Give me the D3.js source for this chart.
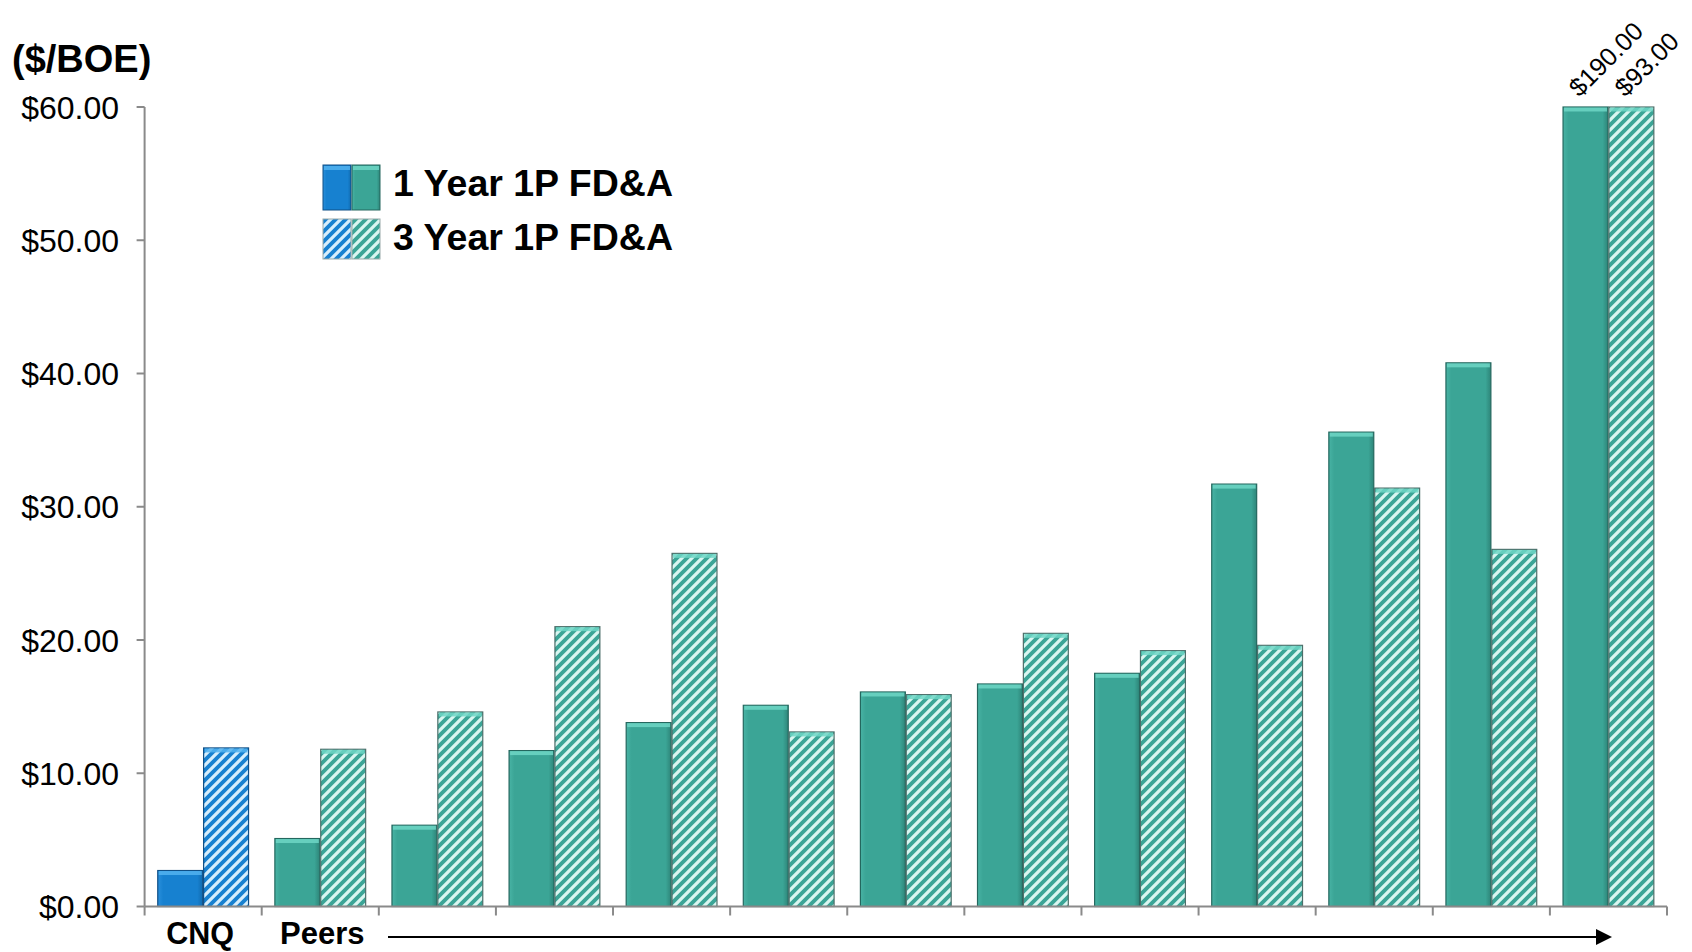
<!DOCTYPE html>
<html>
<head>
<meta charset="utf-8">
<script src="https://cdn.jsdelivr.net/npm/d3@7"></script>
<style>
  html, body { margin: 0; padding: 0; background: #ffffff; }
  svg { display: block; }
  text { font-family: "Liberation Sans", Arial, sans-serif; }
</style>
</head>
<body>
<svg id="chart" width="1692" height="952"></svg>
<script>
// ---- data ----
const categories = ["CNQ", "Peer 1", "Peer 2", "Peer 3", "Peer 4", "Peer 5", "Peer 6",
                    "Peer 7", "Peer 8", "Peer 9", "Peer 10", "Peer 11", "Peer 12"];
const oneYear   = [2.7, 5.1, 6.1, 11.7, 13.8, 15.1, 16.1, 16.7, 17.5, 31.7, 35.6, 40.8, 190.0];
const threeYear = [11.9, 11.8, 14.6, 21.0, 26.5, 13.1, 15.9, 20.5, 19.2, 19.6, 31.4, 26.8, 93.0];
const seriesNames = ["1 Year 1P FD&A", "3 Year 1P FD&A"];
const yTicks = [0, 10, 20, 30, 40, 50, 60];
const yMax = 60;

(function () {
// ---- layout ----
const svg = d3.select("#chart");
const pLeft = 144.6, pRight = 1667, pTop = 107, pBottom = 906.5;

const x = d3.scaleBand().domain(categories).range([pLeft, pRight]).paddingInner(0).paddingOuter(0);
const xs = d3.scaleBand().domain(["y1", "y3"]).range([0, x.bandwidth()]).paddingInner(0.02).paddingOuter(0.287);
const y = d3.scaleLinear().domain([0, yMax]).range([pBottom, pTop]);

const teal = "#3ba596", tealLight = "#6fd6c6", tealDark = "#24675e";
const blue = "#1781d0", blueLight = "#52b3f0", blueDark = "#0f4f86";

// ---- defs: patterns & gradients ----
const defs = svg.append("defs");
function hatch(id, base, stripe) {
  const p = defs.append("pattern").attr("id", id).attr("patternUnits", "userSpaceOnUse")
    .attr("width", 10).attr("height", 10);
  p.append("rect").attr("width", 10).attr("height", 10).attr("fill", base);
  p.append("path").attr("d", "M-2.5,2.5 l5,-5 M0,10 l10,-10 M7.5,12.5 l5,-5")
    .attr("stroke", stripe).attr("stroke-width", 3.2);
}
hatch("hatchTeal", teal, "#d9f6f1");
hatch("hatchBlue", blue, "#d6eefc");
function grad(id, c1, c2, c3) {
  const g = defs.append("linearGradient").attr("id", id).attr("x1", 0).attr("x2", 1).attr("y1", 0).attr("y2", 0);
  g.append("stop").attr("offset", "0%").attr("stop-color", c1);
  g.append("stop").attr("offset", "12%").attr("stop-color", c2);
  g.append("stop").attr("offset", "88%").attr("stop-color", c2);
  g.append("stop").attr("offset", "100%").attr("stop-color", c3);
}
grad("gradTeal", "#48b3a4", teal, "#2e8579");
grad("gradBlue", "#2a90dc", blue, "#106bb0");

// ---- title ----
svg.append("text").attr("x", 12).attr("y", 72).attr("font-size", 38).attr("font-weight", "bold")
  .text("($/BOE)");

// ---- y axis ----
const yAxis = svg.append("g");
yAxis.append("line").attr("x1", pLeft).attr("x2", pLeft).attr("y1", pTop).attr("y2", pBottom)
  .attr("stroke", "#8a8a8a").attr("stroke-width", 2);
yAxis.selectAll(".yt").data(yTicks).join("line")
  .attr("x1", pLeft - 8).attr("x2", pLeft).attr("y1", d => y(d)).attr("y2", d => y(d))
  .attr("stroke", "#8a8a8a").attr("stroke-width", 2);
yAxis.selectAll(".yl").data(yTicks).join("text")
  .attr("x", 119).attr("y", d => y(d) + 11.5).attr("text-anchor", "end")
  .attr("font-size", 32).attr("fill", "#000")
  .text(d => "$" + d3.format(".2f")(d));

// ---- bars ----
function drawBar(g, cx, w, v, fillId, light, dark) {
  const vv = Math.min(v, yMax);
  const yTop = y(vv), h = pBottom - yTop;
  g.append("rect").attr("x", cx).attr("y", yTop).attr("width", w).attr("height", h)
    .attr("fill", "url(#" + fillId + ")").attr("stroke", dark).attr("stroke-width", 1.2);
  g.append("rect").attr("x", cx + 1).attr("y", yTop + 0.5).attr("width", w - 2).attr("height", 4)
    .attr("fill", light).attr("opacity", 0.85);
}
const bars = svg.append("g");
categories.forEach((c, i) => {
  const isCNQ = i === 0;
  const g = bars.append("g");
  const x1 = x(c) + xs("y1"), x3 = x(c) + xs("y3"), w = xs.bandwidth();
  drawBar(g, x1, w, oneYear[i], isCNQ ? "gradBlue" : "gradTeal",
          isCNQ ? blueLight : tealLight, isCNQ ? blueDark : tealDark);
  drawBar(g, x3, w, threeYear[i], isCNQ ? "hatchBlue" : "hatchTeal",
          isCNQ ? blueLight : tealLight, isCNQ ? blueDark : "#4d6f6a");
  // overflow labels
  [[oneYear[i], x1], [threeYear[i], x3]].forEach(([v, bx]) => {
    if (v > yMax) {
      const tx = bx + w / 2 - 6, ty = pTop - 9;
      svg.append("text").attr("transform", `translate(${tx},${ty}) rotate(-45)`)
        .attr("font-size", 25.5).attr("fill", "#000").text("$" + d3.format(".2f")(v));
    }
  });
});

// ---- x axis ----
const xAxis = svg.append("g");
xAxis.append("line").attr("x1", pLeft).attr("x2", pRight).attr("y1", pBottom).attr("y2", pBottom)
  .attr("stroke", "#8a8a8a").attr("stroke-width", 2);
const boundaries = categories.map(c => x(c)).concat([x(categories[categories.length - 1]) + x.bandwidth()]);
xAxis.selectAll(".xt").data(boundaries).join("line")
  .attr("x1", d => d).attr("x2", d => d).attr("y1", pBottom).attr("y2", pBottom + 9)
  .attr("stroke", "#8a8a8a").attr("stroke-width", 2);

// ---- bottom labels ----
svg.append("text").attr("x", x("CNQ") + x.bandwidth() / 2 - 3).attr("y", 944).attr("text-anchor", "middle")
  .attr("font-size", 30.5).attr("font-weight", "bold").text("CNQ");
svg.append("text").attr("x", 280).attr("y", 944)
  .attr("font-size", 31).attr("font-weight", "bold").text("Peers");
svg.append("line").attr("x1", 388).attr("x2", 1598).attr("y1", 937).attr("y2", 937)
  .attr("stroke", "#000").attr("stroke-width", 2);
svg.append("path").attr("d", "M1596,929 L1612,937 L1596,945 Z").attr("fill", "#000");

// ---- legend ----
const legend = svg.append("g");
const legY = [165, 219];
seriesNames.forEach((name, i) => {
  const yy = legY[i];
  const fills = i === 0 ? ["gradBlue", "gradTeal"] : ["hatchBlue", "hatchTeal"];
  const lights = [blueLight, tealLight];
  const darks = [blueDark, tealDark];
  fills.forEach((f, j) => {
    legend.append("rect").attr("x", 323 + j * 29).attr("y", yy).attr("width", 28).attr("height", i === 0 ? 45 : 40)
      .attr("fill", "url(#" + f + ")").attr("stroke", i === 0 ? darks[j] : "#9aa").attr("stroke-width", 1);
    if (i === 0) legend.append("rect").attr("x", 324 + j * 29).attr("y", yy + 1).attr("width", 26).attr("height", 4)
      .attr("fill", lights[j]).attr("opacity", 0.85);
  });
  legend.append("text").attr("x", 393).attr("y", yy + 31).attr("font-size", 37.5).attr("font-weight", "bold")
    .text(name);
});
})();
</script>
</body>
</html>
